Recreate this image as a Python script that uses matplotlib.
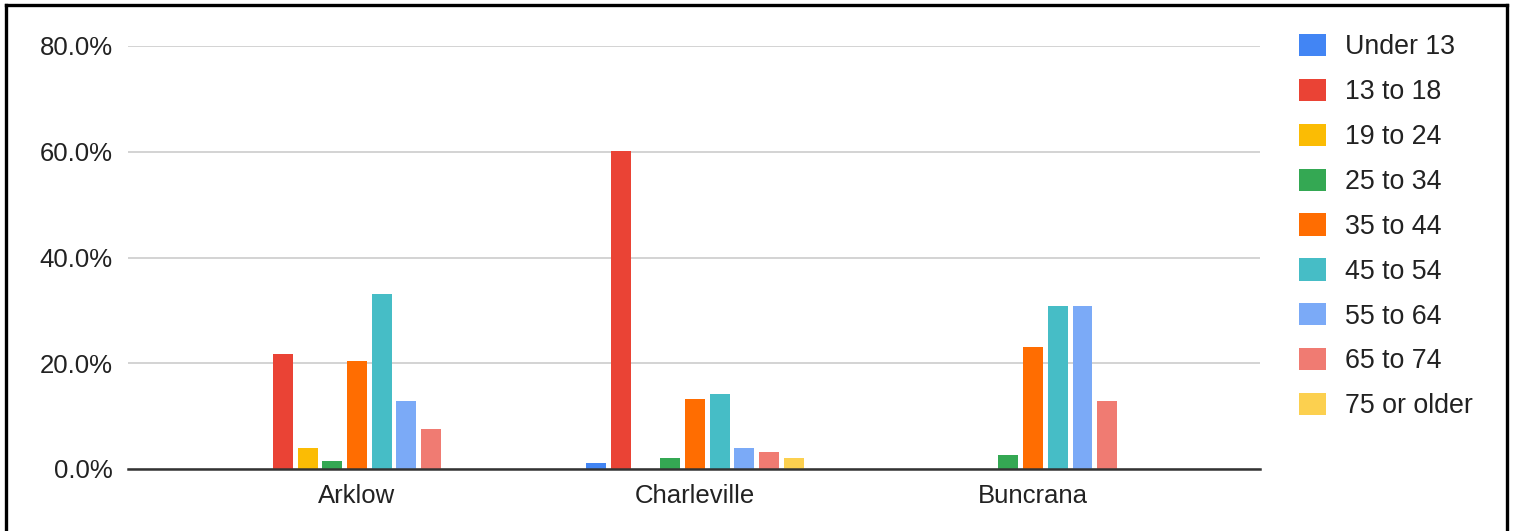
import matplotlib
matplotlib.use("Agg")
import matplotlib.pyplot as plt
from matplotlib.lines import Line2D
import numpy as np

plt.rcParams['font.family'] = ['Liberation Sans', 'DejaVu Sans']

towns = ['Arklow', 'Charleville', 'Buncrana']
age_groups = ['Under 13', '13 to 18', '19 to 24', '25 to 34', '35 to 44',
              '45 to 54', '55 to 64', '65 to 74', '75 or older']

# share of respondents (%) per age group, one list per town
arklow = [0.0, 21.7, 4.0, 1.5, 20.4, 33.1, 12.9, 7.6, 0.0]
charleville = [1.1, 60.1, 0.0, 2.1, 13.2, 14.2, 4.0, 3.2, 2.1]
buncrana = [0.0, 0.0, 0.0, 2.6, 23.1, 30.8, 30.8, 12.8, 0.0]

colors = ['#4285F4', '#EA4335', '#FBBC04', '#34A853', '#FF6D01',
          '#46BDC6', '#7BAAF7', '#F07B72', '#FCD04F']

values = np.array([arklow, charleville, buncrana])

fig = plt.figure(figsize=(15.15, 5.31), dpi=100)
ax = fig.add_axes([128 / 1515, 1 - 469 / 531, (1260 - 128) / 1515, (469 - 46) / 531])

x = np.arange(len(towns))
slot = 0.073
width = 0.059
for i, (label, col) in enumerate(zip(age_groups, colors)):
    ax.bar(x + (i - 4) * slot, values[:, i], width=width, color=col,
           label=label, zorder=3)

ax.set_xlim(-0.677, 2.671)
ax.set_ylim(0, 80)
ax.set_yticks([0, 20, 40, 60, 80])
ax.set_yticklabels([f'{v:.1f}%' for v in [0, 20, 40, 60, 80]])
ax.set_xticks(x)
ax.set_xticklabels(towns)
ax.tick_params(axis='both', length=0, labelsize=18.5, colors='#222222')
ax.tick_params(axis='y', pad=11)
ax.tick_params(axis='x', pad=11)

ax.grid(axis='y', color='#cccccc', linewidth=1.2, zorder=0)
for s in ['top', 'right', 'left']:
    ax.spines[s].set_visible(False)
ax.spines['bottom'].set_color('#333333')
ax.spines['bottom'].set_linewidth(1.8)
ax.spines['bottom'].set_zorder(4)

leg = fig.legend(loc='upper left', bbox_to_anchor=(1299 / 1515, 1 - 34 / 531),
                 frameon=False, fontsize=19.3, handlelength=1.0,
                 handleheight=0.9, handletextpad=0.72, labelspacing=0.69,
                 borderpad=0, borderaxespad=0)
for t in leg.get_texts():
    t.set_color('#222222')

# black frame around the chart (left, top, right)
fw = 1515
fh = 531
frame_kw = dict(color='black', linewidth=2.4, transform=fig.transFigure)
fig.add_artist(Line2D([6 / fw, 6 / fw], [0, 1 - 5 / fh], **frame_kw))
fig.add_artist(Line2D([6 / fw, 1507 / fw], [1 - 5 / fh, 1 - 5 / fh], **frame_kw))
fig.add_artist(Line2D([1507 / fw, 1507 / fw], [0, 1 - 5 / fh], **frame_kw))

fig.savefig('out.png', dpi=100)
